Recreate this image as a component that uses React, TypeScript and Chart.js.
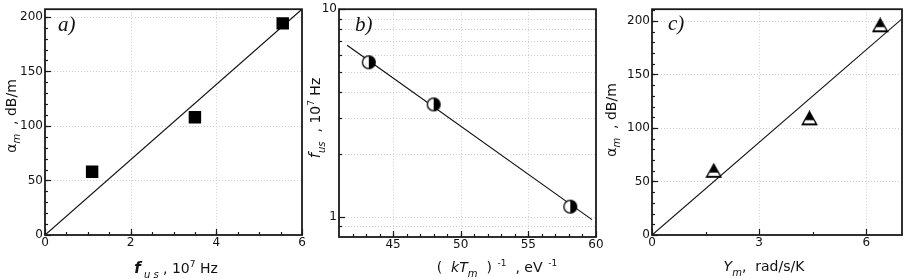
import React, { useEffect, useRef } from 'react';
import { Chart, registerables } from 'chart.js';
Chart.register(...registerables);

const W = 910;
const H = 279;
const FONT = 'DejaVu Sans';

// Panel a: attenuation vs ultrasound frequency
const freqA = [1.1, 3.5, 5.55];
const attenA = [58, 108, 194];
const fitAX = [0, 6];
const fitAY = [0, 207];
const ticksAX = [0, 2, 4, 6];
const ticksAY = [0, 50, 100, 150, 200];

// Panel b: frequency vs inverse temperature (log y)
const invKTB = [43.2, 48.0, 58.1];
const freqB = [5.55, 3.48, 1.12];
const fitBX = [41.6, 59.7];
const fitBY = [6.7, 0.97];
const ticksBX = [45, 50, 55, 60];
const ticksBY = [1, 10];
const logMinorBY = [0.9, 2, 3, 4, 5, 6, 7, 8, 9];

// Panel c: attenuation vs Y_m
const ymC = [1.73, 4.41, 6.39];
const attenC = [60, 109, 196];
const fitCX = [0, 7];
const fitCY = [0, 202];
const ticksCX = [0, 3, 6];
const ticksCY = [0, 50, 100, 150, 200];

type Seg = { t: string; font: string; dy?: number };

function range(a: number, b: number, step: number): number[] {
  const out: number[] = [];
  for (let i = 0; a + i * step <= b + 1e-9; i++) out.push(+(a + i * step).toFixed(6));
  return out;
}

function drawRich(ctx: CanvasRenderingContext2D, segs: Seg[], cx: number, cy: number, rotate: boolean) {
  ctx.save();
  ctx.translate(cx, cy);
  if (rotate) ctx.rotate(-Math.PI / 2);
  ctx.textBaseline = 'alphabetic';
  ctx.textAlign = 'left';
  ctx.fillStyle = '#111';
  let total = 0;
  for (const s of segs) {
    ctx.font = s.font;
    total += ctx.measureText(s.t).width;
  }
  let x = -total / 2;
  for (const s of segs) {
    ctx.font = s.font;
    ctx.fillText(s.t, x, s.dy || 0);
    x += ctx.measureText(s.t).width;
  }
  ctx.restore();
}

type Decor = {
  gridX: number[];
  gridY: number[];
  majorX: number[];
  minorX: number[];
  majorY: number[];
  minorY: number[];
  label: string;
  labelX: number;
  labelY: number;
  xTitle: Seg[];
  xTitleCx: number;
  xTitleBase: number;
  yTitle: Seg[];
  yTitleBase: number;
  yTitleCy: number;
};

function makeDecor(d: Decor) {
  return {
    id: 'decor',
    beforeDatasetsDraw(chart: any) {
      const { ctx, chartArea } = chart;
      const { left, right, top, bottom } = chartArea;
      const xs = chart.scales.x;
      const ys = chart.scales.y;
      ctx.save();
      ctx.strokeStyle = '#cfcfcf';
      ctx.lineWidth = 1;
      ctx.setLineDash([1, 2]);
      for (const v of d.gridX) {
        const px = Math.round(xs.getPixelForValue(v)) + 0.5;
        ctx.beginPath();
        ctx.moveTo(px, top);
        ctx.lineTo(px, bottom);
        ctx.stroke();
      }
      for (const v of d.gridY) {
        const py = Math.round(ys.getPixelForValue(v)) + 0.5;
        ctx.beginPath();
        ctx.moveTo(left, py);
        ctx.lineTo(right, py);
        ctx.stroke();
      }
      ctx.restore();
    },
    afterDraw(chart: any) {
      const { ctx, chartArea } = chart;
      const { left, right, top, bottom } = chartArea;
      const xs = chart.scales.x;
      const ys = chart.scales.y;
      ctx.save();
      ctx.strokeStyle = '#1a1a1a';
      ctx.lineWidth = 1.2;
      const tick = (x1: number, y1: number, x2: number, y2: number) => {
        ctx.beginPath();
        ctx.moveTo(x1, y1);
        ctx.lineTo(x2, y2);
        ctx.stroke();
      };
      for (const v of d.majorX) {
        const px = Math.round(xs.getPixelForValue(v)) + 0.5;
        tick(px, bottom, px, bottom - 6);
      }
      for (const v of d.minorX) {
        const px = Math.round(xs.getPixelForValue(v)) + 0.5;
        tick(px, bottom, px, bottom - 3);
      }
      for (const v of d.majorY) {
        const py = Math.round(ys.getPixelForValue(v)) + 0.5;
        tick(left, py, left + 6, py);
      }
      for (const v of d.minorY) {
        const py = Math.round(ys.getPixelForValue(v)) + 0.5;
        tick(left, py, left + 3, py);
      }
      ctx.lineWidth = 1.8;
      ctx.strokeRect(left, top, right - left, bottom - top);
      ctx.restore();

      ctx.save();
      ctx.fillStyle = '#111';
      ctx.font = 'italic 21px "Liberation Serif"';
      ctx.textBaseline = 'alphabetic';
      ctx.fillText(d.label, left + d.labelX, d.labelY);
      ctx.restore();

      drawRich(ctx, d.xTitle, d.xTitleCx, d.xTitleBase, false);
      drawRich(ctx, d.yTitle, d.yTitleBase, d.yTitleCy, true);
    },
  };
}

function halfCircleMarker(): HTMLCanvasElement {
  const c = document.createElement('canvas');
  c.width = 16;
  c.height = 16;
  const g = c.getContext('2d')!;
  const cx = 8, cy = 8, r = 6.4;
  g.fillStyle = '#fff';
  g.beginPath();
  g.arc(cx, cy, r, 0, Math.PI * 2);
  g.fill();
  g.fillStyle = '#000';
  g.beginPath();
  g.arc(cx, cy, r, -Math.PI / 2, Math.PI / 2);
  g.closePath();
  g.fill();
  g.strokeStyle = '#000';
  g.lineWidth = 1.3;
  g.beginPath();
  g.arc(cx, cy, r, 0, Math.PI * 2);
  g.stroke();
  return c;
}

function triangleMarker(): HTMLCanvasElement {
  const c = document.createElement('canvas');
  c.width = 17;
  c.height = 16;
  const g = c.getContext('2d')!;
  const path = () => {
    g.beginPath();
    g.moveTo(8.5, 1.2);
    g.lineTo(15.8, 14.4);
    g.lineTo(1.2, 14.4);
    g.closePath();
  };
  path();
  g.fillStyle = '#000';
  g.fill();
  g.save();
  path();
  g.clip();
  g.fillStyle = '#fff';
  g.fillRect(0, 9.8, 17, 3.3);
  g.restore();
  path();
  g.strokeStyle = '#000';
  g.lineWidth = 1.3;
  g.stroke();
  return c;
}

const tickFont = { family: FONT, size: 12 };

function axis(min: number, max: number, ticks: number[], size: number, isY: boolean, type = 'linear') {
  return {
    type,
    min,
    max,
    afterBuildTicks: (s: any) => {
      s.ticks = ticks.map((v) => ({ value: v }));
    },
    afterFit: (s: any) => {
      if (isY) s.width = size;
      else s.height = size;
    },
    grid: { display: false, drawTicks: false },
    border: { display: false },
    ticks: {
      font: tickFont,
      color: '#111',
      padding: isY ? 2 : 1,
      autoSkip: false,
      maxRotation: 0,
      callback: (v: any) => String(v),
    },
  };
}

const toPts = (xs: number[], ys: number[]) => xs.map((x, i) => ({ x, y: ys[i] }));

const baseOptions = (padding: any, scales: any) => ({
  responsive: false,
  animation: false as const,
  events: [] as any[],
  layout: { padding },
  plugins: { legend: { display: false }, tooltip: { enabled: false } },
  scales,
});

const TS = 14;
const sub = (t: string, size = 10, dy = 4): Seg => ({ t, font: `italic ${size}px "${FONT}"`, dy });
const sup = (t: string, size = 9, dy = -6): Seg => ({ t, font: `${size}px "${FONT}"`, dy });
const reg = (t: string, size = TS): Seg => ({ t, font: `${size}px "${FONT}"` });
const ital = (t: string, size = TS): Seg => ({ t, font: `italic ${size}px "${FONT}"` });

export default function App() {
  const refA = useRef<HTMLCanvasElement>(null);
  const refB = useRef<HTMLCanvasElement>(null);
  const refC = useRef<HTMLCanvasElement>(null);

  useEffect(() => {
    const charts: Chart[] = [];
    const half = halfCircleMarker();
    const tri = triangleMarker();

    // Panel a
    charts.push(
      new Chart(refA.current!, {
        type: 'scatter',
        data: {
          datasets: [
            {
              data: toPts(fitAX, fitAY),
              showLine: true,
              borderColor: '#111',
              borderWidth: 1.2,
              pointRadius: 0,
              order: 2,
            } as any,
            {
              data: toPts(freqA, attenA),
              pointStyle: 'rect',
              pointRadius: 8.8,
              backgroundColor: '#000',
              borderColor: '#000',
              borderWidth: 0,
              order: 1,
            } as any,
          ],
        },
        options: baseOptions({ left: 0, right: W - 302, top: 6, bottom: 0 }, {
          x: axis(0, 6, ticksAX, 44, false),
          y: axis(0, 207, ticksAY, 45, true),
        }) as any,
        plugins: [
          makeDecor({
            gridX: [2, 4],
            gridY: [50, 100, 150, 200],
            majorX: ticksAX,
            minorX: range(0.5, 5.5, 0.5),
            majorY: ticksAY,
            minorY: range(10, 200, 10),
            label: 'a)',
            labelX: 13,
            labelY: 31,
            xTitle: [
              { t: 'f', font: `italic bold 15px "${FONT}"` },
              sub(' u s', 10, 5),
              reg(' , 10'),
              sup('7'),
              reg(' Hz'),
            ],
            xTitleCx: 176,
            xTitleBase: 273,
            yTitle: [reg('α'), sub('m', 10, 4), reg('  , dB/m')],
            yTitleBase: 16,
            yTitleCy: 116,
          }),
        ],
      })
    );

    // Panel b
    charts.push(
      new Chart(refB.current!, {
        type: 'scatter',
        data: {
          datasets: [
            {
              data: toPts(fitBX, fitBY),
              showLine: true,
              borderColor: '#111',
              borderWidth: 1.2,
              pointRadius: 0,
              order: 2,
            } as any,
            {
              data: toPts(invKTB, freqB),
              pointStyle: half,
              pointRadius: 7,
              order: 1,
            } as any,
          ],
        },
        options: baseOptions({ left: 305, right: W - 596, top: 7, bottom: 0 }, {
          x: axis(41, 60, ticksBX, 42, false),
          y: axis(0.8, 10, ticksBY, 34, true, 'logarithmic'),
        }) as any,
        plugins: [
          makeDecor({
            gridX: [45, 50, 55],
            gridY: [0.9, 1, 2, 3, 4, 5, 6, 7, 8, 9],
            majorX: ticksBX,
            minorX: range(42, 59, 1),
            majorY: ticksBY,
            minorY: logMinorBY,
            label: 'b)',
            labelX: 16,
            labelY: 31,
            xTitle: [
              reg('(  '),
              ital('kT'),
              sub('m', 10, 5),
              reg('  )'),
              sup('  -1'),
              reg('  , eV'),
              sup('  -1'),
            ],
            xTitleCx: 497,
            xTitleBase: 272,
            yTitle: [
              { t: 'f', font: `italic 15px "${FONT}"` },
              sub('us', 10, 5),
              reg('  , 10'),
              sup('7'),
              reg(' Hz'),
            ],
            yTitleBase: 320,
            yTitleCy: 118,
          }),
        ],
      })
    );

    // Panel c
    charts.push(
      new Chart(refC.current!, {
        type: 'scatter',
        data: {
          datasets: [
            {
              data: toPts(fitCX, fitCY),
              showLine: true,
              borderColor: '#111',
              borderWidth: 1.2,
              pointRadius: 0,
              order: 2,
            } as any,
            {
              data: toPts(ymC, attenC),
              pointStyle: tri,
              pointRadius: 7,
              order: 1,
            } as any,
          ],
        },
        options: baseOptions({ left: 600, right: W - 907, top: 6, bottom: 0 }, {
          x: axis(0, 7, ticksCX, 44, false),
          y: axis(0, 211, ticksCY, 52, true),
        }) as any,
        plugins: [
          makeDecor({
            gridX: [3, 6],
            gridY: [50, 100, 150, 200],
            majorX: ticksCX,
            minorX: [1.5, 4.5],
            majorY: ticksCY,
            minorY: range(10, 210, 10),
            label: 'c)',
            labelX: 16,
            labelY: 30,
            xTitle: [ital('Y'), sub('m', 10, 5), reg(',  rad/s/K')],
            xTitleCx: 764,
            xTitleBase: 271,
            yTitle: [reg('α'), sub('m', 10, 4), reg('  , dB/m')],
            yTitleBase: 616,
            yTitleCy: 120,
          }),
        ],
      })
    );

    return () => charts.forEach((c) => c.destroy());
  }, []);

  const cStyle: React.CSSProperties = { position: 'absolute', left: 0, top: 0, width: W, height: H };
  return (
    <div style={{ position: 'absolute', left: 0, top: 0, width: W, height: H, background: '#fff' }}>
      <canvas ref={refA} width={W} height={H} style={cStyle} />
      <canvas ref={refB} width={W} height={H} style={cStyle} />
      <canvas ref={refC} width={W} height={H} style={cStyle} />
    </div>
  );
}
